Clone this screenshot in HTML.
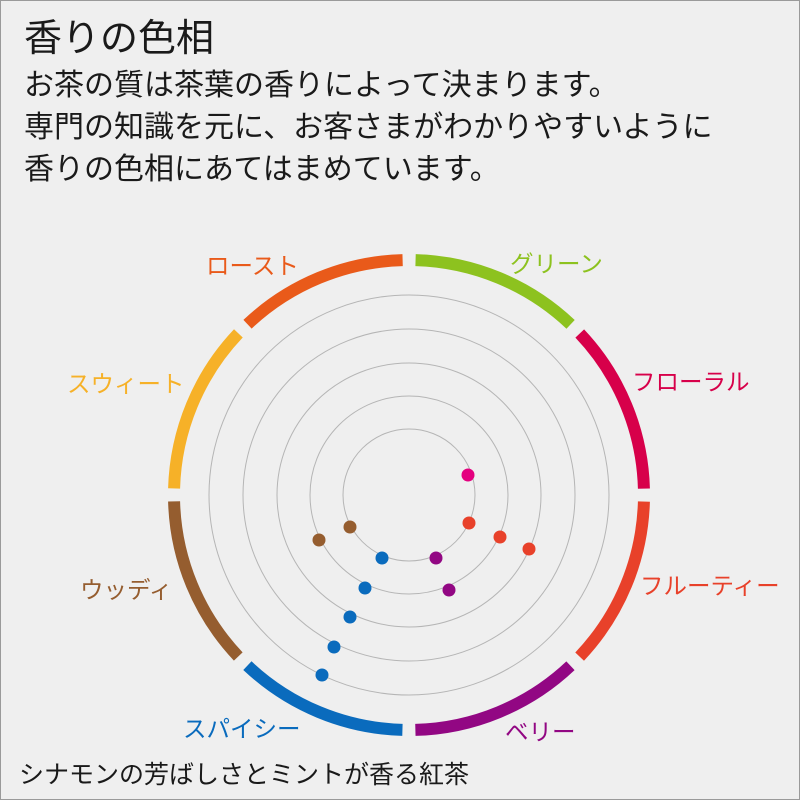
<!DOCTYPE html>
<html><head><meta charset="utf-8"><style>
html,body{margin:0;padding:0}
body{width:800px;height:800px;background:#efefef;position:relative;overflow:hidden;font-family:"Liberation Sans","Noto Sans CJK JP",sans-serif;color:#1a1a1a}
.frame{position:absolute;left:0;top:0;width:798px;height:798px;border:1px solid #9a9a9a}
.t{position:absolute;white-space:nowrap}
</style></head><body>
<div class="frame"></div>
<div class="t" style="left:24px;top:16px;font-size:38px;line-height:46px">香りの色相</div>
<div class="t" style="left:24px;top:65px;font-size:30px;line-height:42px">お茶の質は茶葉の香りによって決まります。<br>専門の知識を元に、お客さまがわかりやすいように<br>香りの色相にあてはまめています。</div>
<div class="t" style="left:19px;top:760px;font-size:25px;line-height:30px">シナモンの芳ばしさとミントが香る紅茶</div>
<svg width="800" height="800" style="position:absolute;left:0;top:0">
<g fill="none" stroke="#b5b5b5" stroke-width="1">
<circle cx="409" cy="495" r="66"/><circle cx="409" cy="495" r="99"/><circle cx="409" cy="495" r="132"/><circle cx="409" cy="495" r="166"/><circle cx="409" cy="495" r="200"/>
</g>
<g fill="none" stroke-width="12" stroke-dasharray="171.6 1304.9">
<circle cx="409" cy="495" r="235" stroke="#8dc21f" transform="rotate(-88.4 409 495)"/>
<circle cx="409" cy="495" r="235" stroke="#d7004a" transform="rotate(-43.4 409 495)"/>
<circle cx="409" cy="495" r="235" stroke="#e8412a" transform="rotate(1.6 409 495)"/>
<circle cx="409" cy="495" r="235" stroke="#920783" transform="rotate(46.6 409 495)"/>
<circle cx="409" cy="495" r="235" stroke="#0a6bbd" transform="rotate(91.6 409 495)"/>
<circle cx="409" cy="495" r="235" stroke="#955d2f" transform="rotate(136.6 409 495)"/>
<circle cx="409" cy="495" r="235" stroke="#f6b128" transform="rotate(181.6 409 495)"/>
<circle cx="409" cy="495" r="235" stroke="#e95a1a" transform="rotate(226.6 409 495)"/>
</g>
<g>
<circle cx="468" cy="475" r="6.5" fill="#e4007f"/>
<circle cx="469" cy="523" r="6.5" fill="#e8412a"/>
<circle cx="500" cy="537" r="6.5" fill="#e8412a"/>
<circle cx="529" cy="549" r="6.5" fill="#e8412a"/>
<circle cx="350" cy="527" r="6.5" fill="#955d2f"/>
<circle cx="319" cy="540" r="6.5" fill="#955d2f"/>
<circle cx="382" cy="558" r="6.5" fill="#0a6bbd"/>
<circle cx="436" cy="558" r="6.5" fill="#920783"/>
<circle cx="365" cy="588" r="6.5" fill="#0a6bbd"/>
<circle cx="449" cy="590" r="6.5" fill="#920783"/>
<circle cx="350" cy="617" r="6.5" fill="#0a6bbd"/>
<circle cx="334" cy="647" r="6.5" fill="#0a6bbd"/>
<circle cx="322" cy="675" r="6.5" fill="#0a6bbd"/>
</g>
<g font-family="Liberation Sans, Noto Sans CJK JP, sans-serif" font-size="23.5">
<text x="206" y="274" fill="#e95a1a">ロースト</text>
<text x="510" y="272" fill="#8dc21f">グリーン</text>
<text x="632" y="390" fill="#d7004a">フローラル</text>
<text x="640" y="594" fill="#e8412a">フルーティー</text>
<text x="505" y="740" fill="#920783">ベリー</text>
<text x="183" y="737" fill="#0a6bbd">スパイシー</text>
<text x="80" y="598" fill="#955d2f">ウッディ</text>
<text x="67" y="392" fill="#f6b128">スウィート</text>
</g>
</svg>
</body></html>
